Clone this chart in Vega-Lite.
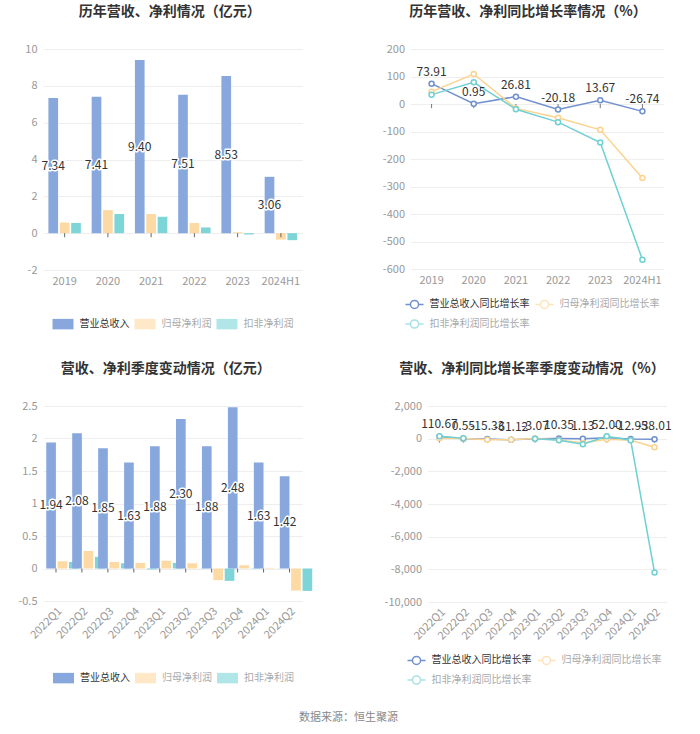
{
  "$schema": "https://vega.github.io/schema/vega-lite/v6.json",
  "background": "white",
  "padding": {"left": 5, "top": 5, "right": 5, "bottom": 5},
  "datasets": {
    "annual": [
      {"period": "2019", "series": "营业总收入", "value": 7.34},
      {"period": "2019", "series": "归母净利润", "value": 0.58},
      {"period": "2019", "series": "扣非净利润", "value": 0.55},
      {"period": "2020", "series": "营业总收入", "value": 7.41},
      {"period": "2020", "series": "归母净利润", "value": 1.25},
      {"period": "2020", "series": "扣非净利润", "value": 1.04},
      {"period": "2021", "series": "营业总收入", "value": 9.40},
      {"period": "2021", "series": "归母净利润", "value": 1.04},
      {"period": "2021", "series": "扣非净利润", "value": 0.89},
      {"period": "2022", "series": "营业总收入", "value": 7.51},
      {"period": "2022", "series": "归母净利润", "value": 0.55},
      {"period": "2022", "series": "扣非净利润", "value": 0.31},
      {"period": "2023", "series": "营业总收入", "value": 8.53},
      {"period": "2023", "series": "归母净利润", "value": 0.05},
      {"period": "2023", "series": "扣非净利润", "value": -0.07},
      {"period": "2024H1", "series": "营业总收入", "value": 3.06},
      {"period": "2024H1", "series": "归母净利润", "value": -0.35},
      {"period": "2024H1", "series": "扣非净利润", "value": -0.38}
    ],
    "annualGrowth": [
      {"period": "2019", "series": "营业总收入同比增长率", "value": 73.91},
      {"period": "2020", "series": "营业总收入同比增长率", "value": 0.95},
      {"period": "2021", "series": "营业总收入同比增长率", "value": 26.81},
      {"period": "2022", "series": "营业总收入同比增长率", "value": -20.18},
      {"period": "2023", "series": "营业总收入同比增长率", "value": 13.67},
      {"period": "2024H1", "series": "营业总收入同比增长率", "value": -26.74},
      {"period": "2019", "series": "归母净利润同比增长率", "value": 45},
      {"period": "2020", "series": "归母净利润同比增长率", "value": 109},
      {"period": "2021", "series": "归母净利润同比增长率", "value": -16},
      {"period": "2022", "series": "归母净利润同比增长率", "value": -50},
      {"period": "2023", "series": "归母净利润同比增长率", "value": -94},
      {"period": "2024H1", "series": "归母净利润同比增长率", "value": -269},
      {"period": "2019", "series": "扣非净利润同比增长率", "value": 34},
      {"period": "2020", "series": "扣非净利润同比增长率", "value": 79},
      {"period": "2021", "series": "扣非净利润同比增长率", "value": -19},
      {"period": "2022", "series": "扣非净利润同比增长率", "value": -66},
      {"period": "2023", "series": "扣非净利润同比增长率", "value": -140},
      {"period": "2024H1", "series": "扣非净利润同比增长率", "value": -566}
    ],
    "quarter": [
      {"period": "2022Q1", "series": "营业总收入", "value": 1.94},
      {"period": "2022Q1", "series": "归母净利润", "value": 0.11},
      {"period": "2022Q1", "series": "扣非净利润", "value": 0.10},
      {"period": "2022Q2", "series": "营业总收入", "value": 2.08},
      {"period": "2022Q2", "series": "归母净利润", "value": 0.27},
      {"period": "2022Q2", "series": "扣非净利润", "value": 0.18},
      {"period": "2022Q3", "series": "营业总收入", "value": 1.85},
      {"period": "2022Q3", "series": "归母净利润", "value": 0.10},
      {"period": "2022Q3", "series": "扣非净利润", "value": 0.08},
      {"period": "2022Q4", "series": "营业总收入", "value": 1.63},
      {"period": "2022Q4", "series": "归母净利润", "value": 0.086},
      {"period": "2022Q4", "series": "扣非净利润", "value": -0.015},
      {"period": "2023Q1", "series": "营业总收入", "value": 1.88},
      {"period": "2023Q1", "series": "归母净利润", "value": 0.12},
      {"period": "2023Q1", "series": "扣非净利润", "value": 0.086},
      {"period": "2023Q2", "series": "营业总收入", "value": 2.30},
      {"period": "2023Q2", "series": "归母净利润", "value": 0.08},
      {"period": "2023Q2", "series": "扣非净利润", "value": 0.003},
      {"period": "2023Q3", "series": "营业总收入", "value": 1.88},
      {"period": "2023Q3", "series": "归母净利润", "value": -0.18},
      {"period": "2023Q3", "series": "扣非净利润", "value": -0.19},
      {"period": "2023Q4", "series": "营业总收入", "value": 2.48},
      {"period": "2023Q4", "series": "归母净利润", "value": 0.05},
      {"period": "2023Q4", "series": "扣非净利润", "value": -0.005},
      {"period": "2024Q1", "series": "营业总收入", "value": 1.63},
      {"period": "2024Q1", "series": "归母净利润", "value": 0.01},
      {"period": "2024Q1", "series": "扣非净利润", "value": 0.002},
      {"period": "2024Q2", "series": "营业总收入", "value": 1.42},
      {"period": "2024Q2", "series": "归母净利润", "value": -0.34},
      {"period": "2024Q2", "series": "扣非净利润", "value": -0.345}
    ],
    "quarterGrowth": [
      {"period": "2022Q1", "series": "营业总收入同比增长率", "value": 110.67},
      {"period": "2022Q2", "series": "营业总收入同比增长率", "value": 0.55},
      {"period": "2022Q3", "series": "营业总收入同比增长率", "value": -15.33},
      {"period": "2022Q4", "series": "营业总收入同比增长率", "value": -61.12},
      {"period": "2023Q1", "series": "营业总收入同比增长率", "value": -3.07},
      {"period": "2023Q2", "series": "营业总收入同比增长率", "value": 10.35},
      {"period": "2023Q3", "series": "营业总收入同比增长率", "value": 1.13},
      {"period": "2023Q4", "series": "营业总收入同比增长率", "value": 52.00},
      {"period": "2024Q1", "series": "营业总收入同比增长率", "value": -12.95},
      {"period": "2024Q2", "series": "营业总收入同比增长率", "value": -38.01},
      {"period": "2022Q1", "series": "归母净利润同比增长率", "value": 30},
      {"period": "2022Q2", "series": "归母净利润同比增长率", "value": 10},
      {"period": "2022Q3", "series": "归母净利润同比增长率", "value": -70},
      {"period": "2022Q4", "series": "归母净利润同比增长率", "value": -60},
      {"period": "2023Q1", "series": "归母净利润同比增长率", "value": 5},
      {"period": "2023Q2", "series": "归母净利润同比增长率", "value": -74},
      {"period": "2023Q3", "series": "归母净利润同比增长率", "value": -270},
      {"period": "2023Q4", "series": "归母净利润同比增长率", "value": -40},
      {"period": "2024Q1", "series": "归母净利润同比增长率", "value": -92},
      {"period": "2024Q2", "series": "归母净利润同比增长率", "value": -530},
      {"period": "2022Q1", "series": "扣非净利润同比增长率", "value": 150},
      {"period": "2022Q2", "series": "扣非净利润同比增长率", "value": 20},
      {"period": "2022Q3", "series": "扣非净利润同比增长率", "value": null},
      {"period": "2022Q4", "series": "扣非净利润同比增长率", "value": null},
      {"period": "2023Q1", "series": "扣非净利润同比增长率", "value": -5},
      {"period": "2023Q2", "series": "扣非净利润同比增长率", "value": -100},
      {"period": "2023Q3", "series": "扣非净利润同比增长率", "value": -340},
      {"period": "2023Q4", "series": "扣非净利润同比增长率", "value": 150},
      {"period": "2024Q1", "series": "扣非净利润同比增长率", "value": -95},
      {"period": "2024Q2", "series": "扣非净利润同比增长率", "value": -8200}
    ]
  },
  "config": {
    "font": "Noto Sans CJK SC",
    "locale": {"number": {"decimal": ".", "thousands": ",", "grouping": [3], "currency": ["", ""], "minus": "-"}},
    "view": {"stroke": null},
    "axis": {"labelColor": "#999999", "labelFontSize": 11, "gridColor": "#eeeeee", "domain": false, "ticks": false, "title": null, "labelPadding": 6},
    "axisX": {"grid": false, "labelPadding": 5},
    "axisY": {"grid": true, "labelOverlap": false},
    "title": {"fontSize": 14, "fontWeight": "bold", "color": "#333333", "anchor": "middle", "frame": "group"},
    "legend": {
      "title": null, "labelFontSize": 10, "padding": 0,
      "labelColor": {"expr": "(datum.label == '营业总收入' || datum.label == '营业总收入同比增长率') ? '#333333' : '#aaaaaa'"},
      "symbolOpacity": {"expr": "(datum.label == '营业总收入' || datum.label == '营业总收入同比增长率') ? 1 : 0.6"},
      "labelOffset": 5, "columnPadding": 4, "rowPadding": 2
    }
  },
  "title": {"text": "数据来源：恒生聚源", "orient": "bottom", "anchor": "middle", "frame": "bounds", "fontSize": 11, "fontWeight": "normal", "color": "#888888", "offset": 24, "dx": 10},
  "columns": 2,
  "align": "none",
  "spacing": {"row": 30, "column": 57.5},
  "resolve": {"scale": {"color": "independent"}, "legend": {"color": "independent"}},
  "concat": [
    {
      "title": {"text": "历年营收、净利情况（亿元）", "dx": -3, "offset": 24},
      "width": 259.5, "height": 221,
      "data": {"name": "annual"},
      "encoding": {
        "x": {"field": "period", "type": "nominal", "sort": null, "scale": {"paddingInner": 0.25, "paddingOuter": 0.125}, "axis": {"labelAngle": 0}}
      },
      "layer": [
        {
          "mark": {"type": "bar"},
          "encoding": {
            "xOffset": {"field": "series", "type": "nominal", "sort": ["营业总收入", "归母净利润", "扣非净利润"], "scale": {"domain": ["营业总收入", "归母净利润", "扣非净利润"], "paddingInner": 0.15, "paddingOuter": 0}},
            "y": {"field": "value", "type": "quantitative", "scale": {"domain": [-2, 10], "nice": false}, "axis": {"values": [-2, 0, 2, 4, 6, 8, 10], "minExtent": 37.5}},
            "color": {"field": "series", "type": "nominal", "sort": ["营业总收入", "归母净利润", "扣非净利润"],
              "scale": {"domain": ["营业总收入", "归母净利润", "扣非净利润"], "range": ["#88a8dd", "#fdd9a3", "#7dd5d8"]},
              "legend": {"symbolType": "M-1,-0.5H1V0.5H-1Z", "symbolSize": 441, "direction": "horizontal", "orient": "none", "legendX": 8.5, "legendY": 263.5}}
          }
        },
        {"mark": {"type": "rule", "color": "#666666", "strokeWidth": 1}, "encoding": {"y": {"datum": 0, "type": "quantitative", "scale": {"domain": [-2, 10], "nice": false}, "axis": {"values": [-2, 0, 2, 4, 6, 8, 10], "minExtent": 37.5}}}},
        {
          "transform": [{"filter": "datum.series == '营业总收入'"}],
          "mark": {"type": "rule", "color": "#666666"},
          "encoding": {"y": {"datum": 0, "type": "quantitative", "scale": {"domain": [-2, 10], "nice": false}, "axis": {"values": [-2, 0, 2, 4, 6, 8, 10], "minExtent": 37.5}}, "y2": {"datum": -0.22}}
        },
        {
          "transform": [{"filter": "datum.series == '营业总收入'"}, {"calculate": "datum.value / 2", "as": "mid"}],
          "mark": {"type": "text", "fontSize": 12, "stroke": "white", "strokeWidth": 3, "strokeJoin": "round", "fill": "white", "baseline": "middle"},
          "encoding": {
            "xOffset": {"field": "series", "type": "nominal", "sort": ["营业总收入", "归母净利润", "扣非净利润"], "scale": {"domain": ["营业总收入", "归母净利润", "扣非净利润"], "paddingInner": 0.15, "paddingOuter": 0}},
            "y": {"field": "mid", "type": "quantitative", "scale": {"domain": [-2, 10], "nice": false}, "axis": {"values": [-2, 0, 2, 4, 6, 8, 10], "minExtent": 37.5}},
            "text": {"field": "value", "type": "quantitative", "format": ".2f"}
          }
        },
        {
          "transform": [{"filter": "datum.series == '营业总收入'"}, {"calculate": "datum.value / 2", "as": "mid"}],
          "mark": {"type": "text", "fontSize": 12, "fill": "#333333", "baseline": "middle"},
          "encoding": {
            "xOffset": {"field": "series", "type": "nominal", "sort": ["营业总收入", "归母净利润", "扣非净利润"], "scale": {"domain": ["营业总收入", "归母净利润", "扣非净利润"], "paddingInner": 0.15, "paddingOuter": 0}},
            "y": {"field": "mid", "type": "quantitative", "scale": {"domain": [-2, 10], "nice": false}, "axis": {"values": [-2, 0, 2, 4, 6, 8, 10], "minExtent": 37.5}},
            "text": {"field": "value", "type": "quantitative", "format": ".2f"}
          }
        }
      ]
    },
    {
      "title": {"text": "历年营收、净利同比增长率情况（%）", "dx": -9, "offset": 24},
      "width": 253, "height": 220,
      "data": {"name": "annualGrowth"},
      "encoding": {
        "x": {"field": "period", "type": "nominal", "sort": null, "axis": {"labelAngle": 0}}
      },
      "layer": [
        {"mark": {"type": "rule", "color": "#777777"}, "encoding": {"y": {"datum": 0, "type": "quantitative", "scale": {"domain": [-600, 200], "nice": false}, "axis": {"values": [-600, -500, -400, -300, -200, -100, 0, 100, 200], "minExtent": 40}}}},
        {
          "transform": [{"filter": "datum.series == '营业总收入同比增长率'"}],
          "mark": {"type": "rule", "color": "#777777"},
          "encoding": {"y": {"datum": 0, "type": "quantitative", "scale": {"domain": [-600, 200], "nice": false}, "axis": {"values": [-600, -500, -400, -300, -200, -100, 0, 100, 200], "minExtent": 40}}, "y2": {"datum": -15}}
        },
        {
          "mark": {"type": "line", "strokeWidth": 1.5, "point": {"filled": false, "fill": "white", "size": 25, "strokeWidth": 1.5}},
          "encoding": {
            "y": {"field": "value", "type": "quantitative", "scale": {"domain": [-600, 200], "nice": false}, "axis": {"values": [-600, -500, -400, -300, -200, -100, 0, 100, 200], "minExtent": 40}},
            "color": {"field": "series", "type": "nominal", "sort": ["营业总收入同比增长率", "归母净利润同比增长率", "扣非净利润同比增长率"],
              "scale": {"domain": ["营业总收入同比增长率", "归母净利润同比增长率", "扣非净利润同比增长率"], "range": ["#7090cf", "#fbd38f", "#6fd0d3"]},
              "legend": {"symbolType": "M-1,0H-0.45M0.45,0H1M-0.45,0A0.45,0.45,0,1,1,0.45,0A0.45,0.45,0,1,1,-0.45,0", "symbolSize": 324, "symbolStrokeWidth": 1.5, "symbolFillColor": "white", "columns": 2, "columnPadding": 3, "direction": "horizontal", "orient": "none", "legendX": -6, "legendY": 245}}
          }
        },
        {
          "transform": [{"filter": "datum.series == '营业总收入同比增长率'"}],
          "mark": {"type": "text", "fontSize": 12, "fill": "#333333", "baseline": "middle", "dy": -12},
          "encoding": {
            "y": {"field": "value", "type": "quantitative", "scale": {"domain": [-600, 200], "nice": false}, "axis": {"values": [-600, -500, -400, -300, -200, -100, 0, 100, 200], "minExtent": 40}},
            "text": {"field": "value", "type": "quantitative", "format": ".2f"}
          }
        }
      ]
    },
    {
      "title": {"text": "营收、净利季度变动情况（亿元）", "dx": -7, "offset": 24},
      "width": 259.5, "height": 195,
      "data": {"name": "quarter"},
      "encoding": {
        "x": {"field": "period", "type": "nominal", "sort": null, "scale": {"paddingInner": 0.25, "paddingOuter": 0.125}, "axis": {"labelAngle": -45, "labelPadding": 4}}
      },
      "layer": [
        {
          "mark": {"type": "bar"},
          "encoding": {
            "xOffset": {"field": "series", "type": "nominal", "sort": ["营业总收入", "归母净利润", "扣非净利润"], "scale": {"domain": ["营业总收入", "归母净利润", "扣非净利润"], "paddingInner": 0.15, "paddingOuter": 0}},
            "y": {"field": "value", "type": "quantitative", "scale": {"domain": [-0.5, 2.5], "nice": false}, "axis": {"values": [-0.5, 0, 0.5, 1, 1.5, 2, 2.5], "format": "~g", "minExtent": 37.5}},
            "color": {"field": "series", "type": "nominal", "sort": ["营业总收入", "归母净利润", "扣非净利润"],
              "scale": {"domain": ["营业总收入", "归母净利润", "扣非净利润"], "range": ["#88a8dd", "#fdd9a3", "#7dd5d8"]},
              "legend": {"symbolType": "M-1,-0.5H1V0.5H-1Z", "symbolSize": 441, "direction": "horizontal", "orient": "none", "legendX": 9, "legendY": 260.5}}
          }
        },
        {"mark": {"type": "rule", "color": "#666666"}, "encoding": {"y": {"datum": 0, "type": "quantitative", "scale": {"domain": [-0.5, 2.5], "nice": false}, "axis": {"values": [-0.5, 0, 0.5, 1, 1.5, 2, 2.5], "format": "~g", "minExtent": 37.5}}}},
        {
          "transform": [{"filter": "datum.series == '营业总收入'"}],
          "mark": {"type": "rule", "color": "#666666"},
          "encoding": {"y": {"datum": 0, "type": "quantitative", "scale": {"domain": [-0.5, 2.5], "nice": false}, "axis": {"values": [-0.5, 0, 0.5, 1, 1.5, 2, 2.5], "format": "~g", "minExtent": 37.5}}, "y2": {"datum": -0.062}}
        },
        {
          "transform": [{"filter": "datum.series == '营业总收入'"}, {"calculate": "datum.value / 2", "as": "mid"}],
          "mark": {"type": "text", "fontSize": 12, "stroke": "white", "strokeWidth": 3, "strokeJoin": "round", "fill": "white", "baseline": "middle"},
          "encoding": {
            "xOffset": {"field": "series", "type": "nominal", "sort": ["营业总收入", "归母净利润", "扣非净利润"], "scale": {"domain": ["营业总收入", "归母净利润", "扣非净利润"], "paddingInner": 0.15, "paddingOuter": 0}},
            "y": {"field": "mid", "type": "quantitative", "scale": {"domain": [-0.5, 2.5], "nice": false}, "axis": {"values": [-0.5, 0, 0.5, 1, 1.5, 2, 2.5], "format": "~g", "minExtent": 37.5}},
            "text": {"field": "value", "type": "quantitative", "format": ".2f"}
          }
        },
        {
          "transform": [{"filter": "datum.series == '营业总收入'"}, {"calculate": "datum.value / 2", "as": "mid"}],
          "mark": {"type": "text", "fontSize": 12, "fill": "#333333", "baseline": "middle"},
          "encoding": {
            "xOffset": {"field": "series", "type": "nominal", "sort": ["营业总收入", "归母净利润", "扣非净利润"], "scale": {"domain": ["营业总收入", "归母净利润", "扣非净利润"], "paddingInner": 0.15, "paddingOuter": 0}},
            "y": {"field": "mid", "type": "quantitative", "scale": {"domain": [-0.5, 2.5], "nice": false}, "axis": {"values": [-0.5, 0, 0.5, 1, 1.5, 2, 2.5], "format": "~g", "minExtent": 37.5}},
            "text": {"field": "value", "type": "quantitative", "format": ".2f"}
          }
        }
      ]
    },
    {
      "title": {"text": "营收、净利同比增长率季度变动情况（%）", "dx": -15, "offset": 24},
      "width": 239, "height": 196,
      "data": {"name": "quarterGrowth"},
      "encoding": {
        "x": {"field": "period", "type": "nominal", "sort": null, "axis": {"labelAngle": -45, "labelPadding": 4}}
      },
      "layer": [
        {"mark": {"type": "rule", "color": "#777777"}, "encoding": {"y": {"datum": 0, "type": "quantitative", "scale": {"domain": [-10000, 2000], "nice": false}, "axis": {"values": [-10000, -8000, -6000, -4000, -2000, 0, 2000], "format": ",.0f", "minExtent": 57}}}},
        {
          "transform": [{"filter": "datum.series == '营业总收入同比增长率'"}],
          "mark": {"type": "rule", "color": "#777777"},
          "encoding": {"y": {"datum": 0, "type": "quantitative", "scale": {"domain": [-10000, 2000], "nice": false}, "axis": {"values": [-10000, -8000, -6000, -4000, -2000, 0, 2000], "format": ",.0f", "minExtent": 57}}, "y2": {"datum": -245}}
        },
        {
          "mark": {"type": "line", "strokeWidth": 1.5, "invalid": "break-paths-filter-domains", "point": {"filled": false, "fill": "white", "size": 25, "strokeWidth": 1.5}},
          "encoding": {
            "y": {"field": "value", "type": "quantitative", "scale": {"domain": [-10000, 2000], "nice": false}, "axis": {"values": [-10000, -8000, -6000, -4000, -2000, 0, 2000], "format": ",.0f", "minExtent": 57}},
            "color": {"field": "series", "type": "nominal", "sort": ["营业总收入同比增长率", "归母净利润同比增长率", "扣非净利润同比增长率"],
              "scale": {"domain": ["营业总收入同比增长率", "归母净利润同比增长率", "扣非净利润同比增长率"], "range": ["#7090cf", "#fbd38f", "#6fd0d3"]},
              "legend": {"symbolType": "M-1,0H-0.45M0.45,0H1M-0.45,0A0.45,0.45,0,1,1,0.45,0A0.45,0.45,0,1,1,-0.45,0", "symbolSize": 324, "symbolStrokeWidth": 1.5, "symbolFillColor": "white", "columns": 2, "columnPadding": 3, "direction": "horizontal", "orient": "none", "legendX": -21, "legendY": 244}}
          }
        },
        {
          "transform": [{"filter": "datum.series == '营业总收入同比增长率'"}],
          "mark": {"type": "text", "fontSize": 12, "fill": "#333333", "baseline": "middle", "dy": -13},
          "encoding": {
            "y": {"field": "value", "type": "quantitative", "scale": {"domain": [-10000, 2000], "nice": false}, "axis": {"values": [-10000, -8000, -6000, -4000, -2000, 0, 2000], "format": ",.0f", "minExtent": 57}},
            "text": {"field": "value", "type": "quantitative", "format": ".2f"}
          }
        }
      ]
    }
  ]
}
